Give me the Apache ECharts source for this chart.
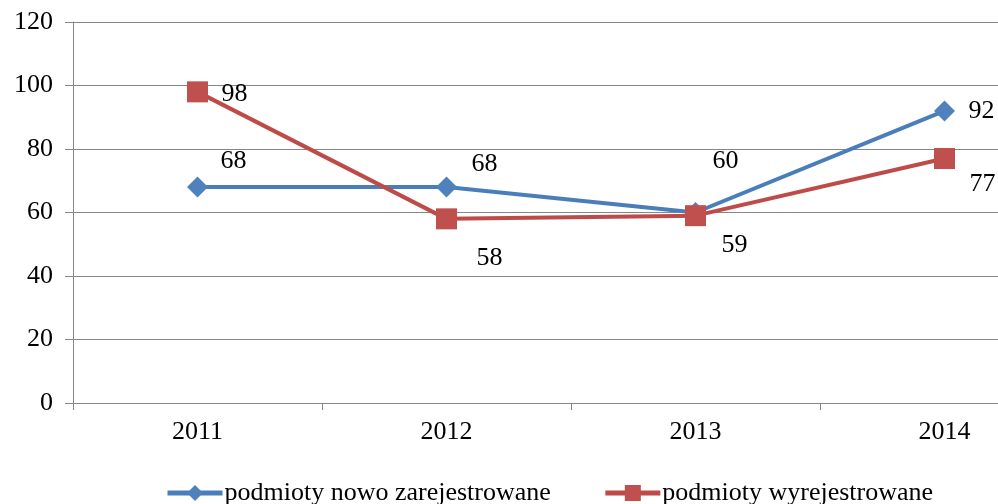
<!DOCTYPE html>
<html>
<head>
<meta charset="utf-8">
<script src="https://cdn.jsdelivr.net/npm/echarts@6/dist/echarts.min.js"></script>
<style>
html,body{margin:0;padding:0;background:#fff;overflow:hidden;width:998px;height:504px;}
#chart{width:1069px;height:504px;}
</style>
</head>
<body>
<div id="chart"></div>
<script>
const categories = ['2011', '2012', '2013', '2014'];
const seriesNames = ['podmioty nowo zarejestrowane', 'podmioty wyrejestrowane'];
const newlyRegistered = [68, 68, 60, 92];
const deregistered = [98, 58, 59, 77];
const yTicks = [0, 20, 40, 60, 80, 100, 120];

// label placement (layout only)
const offsetsBlue = [[36, -26], [38, -23], [30, -51], [37, 0]];
const offsetsRed = [[37, 2], [43, 39], [39, 29], [38, 26]];

const FONT = '"Liberation Serif", "Times New Roman", serif';
const BLUE = '#4A7EBB';
const RED = '#BE4B48';

function withLabels(values, offsets) {
  return values.map((v, i) => ({ value: v, label: { offset: offsets[i] } }));
}

const chart = echarts.init(document.getElementById('chart'), null, { renderer: 'canvas' });
chart.setOption({
  animation: false,
  backgroundColor: '#fff',
  textStyle: { fontFamily: FONT },
  grid: { left: 73, top: 22, width: 996, height: 381, containLabel: false },
  legend: {
    left: 160, top: 475,
    itemWidth: 55, itemHeight: 20, itemGap: 52,
    lineStyle: { width: 5 },
    textStyle: { fontFamily: FONT, fontSize: 26, color: '#000', padding: [0, 0, 0, -3] },
    data: seriesNames
  },
  xAxis: {
    type: 'category',
    data: categories,
    boundaryGap: true,
    axisLine: { show: true, lineStyle: { color: '#868686', width: 1 } },
    axisTick: { show: true, length: 7, alignWithLabel: false, lineStyle: { color: '#868686' } },
    axisLabel: { fontFamily: FONT, fontSize: 26, color: '#000', margin: 16 },
    splitLine: { show: false }
  },
  yAxis: {
    type: 'value',
    min: yTicks[0], max: yTicks[yTicks.length - 1], interval: 20,
    axisLine: { show: true, lineStyle: { color: '#868686', width: 1 } },
    axisTick: { show: true, length: 8, lineStyle: { color: '#868686' } },
    axisLabel: { fontFamily: FONT, fontSize: 26, color: '#000', margin: 20 },
    splitLine: { show: true, lineStyle: { color: '#868686', width: 1 } }
  },
  series: [
    {
      name: seriesNames[0],
      type: 'line',
      data: withLabels(newlyRegistered, offsetsBlue),
      symbol: 'diamond',
      symbolSize: 21,
      lineStyle: { color: BLUE, width: 4 },
      itemStyle: { color: '#4F81BD' },
      label: { show: true, position: 'inside', fontFamily: FONT, fontSize: 26, color: '#000' },
      z: 2
    },
    {
      name: seriesNames[1],
      type: 'line',
      data: withLabels(deregistered, offsetsRed),
      symbol: 'rect',
      symbolSize: 21,
      lineStyle: { color: RED, width: 4 },
      itemStyle: { color: '#C0504D' },
      label: { show: true, position: 'inside', fontFamily: FONT, fontSize: 26, color: '#000' },
      z: 3
    }
  ]
});
</script>
</body>
</html>
